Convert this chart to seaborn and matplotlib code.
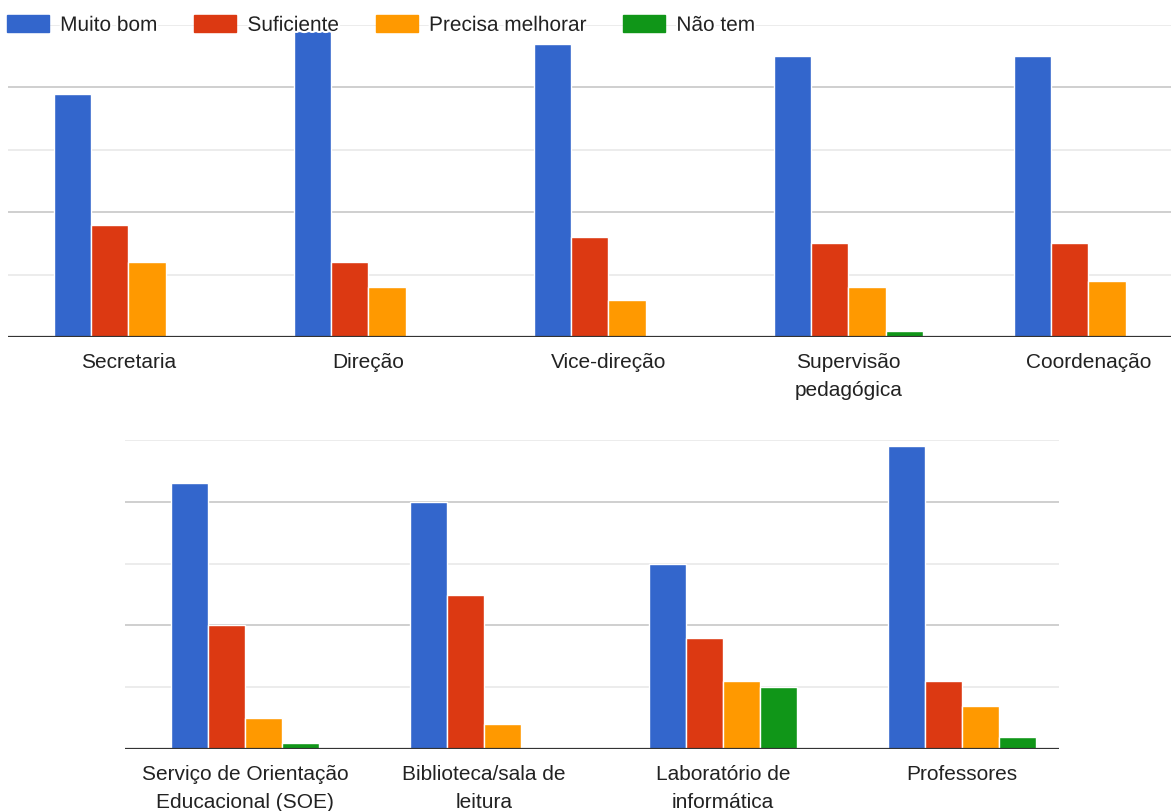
import matplotlib
matplotlib.use("Agg")
import matplotlib.pyplot as plt
import matplotlib.patheffects as pe
from matplotlib.patches import Patch
from matplotlib.ticker import MultipleLocator
import pandas as pd
import seaborn as sns

# Evaluation of school services (number of answers per rating)
series = ["Muito bom", "Suficiente", "Precisa melhorar", "Não tem"]
colors = ["#3366cc", "#dc3912", "#ff9900", "#109618"]

top_categories = ["Secretaria", "Direção", "Vice-direção",
                  "Supervisão\npedagógica", "Coordenação"]
top_muito_bom = [39, 49, 47, 45, 45]
top_suficiente = [18, 12, 16, 15, 15]
top_precisa = [12, 8, 6, 8, 9]
top_nao_tem = [0, 0, 0, 1, 0]

bottom_categories = ["Serviço de Orientação\nEducacional (SOE)",
                     "Biblioteca/sala de\nleitura",
                     "Laboratório de\ninformática", "Professores"]
bottom_muito_bom = [43, 40, 30, 49]
bottom_suficiente = [20, 25, 18, 11]
bottom_precisa = [5, 4, 11, 7]
bottom_nao_tem = [1, 0, 10, 2]


def long_table(categories, *values):
    rows = []
    for name, vals in zip(series, values):
        for cat, v in zip(categories, vals):
            rows.append({"categoria": cat, "avaliacao": name, "respostas": v})
    return pd.DataFrame(rows)


df_top = long_table(top_categories, top_muito_bom, top_suficiente,
                    top_precisa, top_nao_tem)
df_bottom = long_table(bottom_categories, bottom_muito_bom, bottom_suficiente,
                       bottom_precisa, bottom_nao_tem)

sns.set_theme(style="white")
plt.rcParams["font.family"] = ["Liberation Sans", "DejaVu Sans"]

W, H = 1171, 812
fig = plt.figure(figsize=(W / 100, H / 100), dpi=100)
fig.patch.set_facecolor("white")


def px_axes(left, right, top, bottom):
    return fig.add_axes([left / W, 1 - bottom / H, (right - left) / W,
                         (bottom - top) / H])


ax_top = px_axes(8, 1171, 26, 338)
ax_bot = px_axes(125, 1059, 441, 750)

palette = dict(zip(series, colors))
for ax, df, cats, xlim in [
    (ax_top, df_top, top_categories, (-0.502, 4.344)),
    (ax_bot, df_bottom, bottom_categories, (-0.502, 3.406)),
]:
    sns.barplot(data=df, x="categoria", y="respostas", hue="avaliacao",
                hue_order=series, order=cats, palette=palette, width=0.62,
                edgecolor="white", linewidth=1.0, saturation=1.0, ax=ax,
                legend=False, zorder=3)
    ax.set_xlim(*xlim)
    ax.set_ylim(0, 50)
    ax.yaxis.set_major_locator(MultipleLocator(20))
    ax.yaxis.set_minor_locator(MultipleLocator(10))
    ax.grid(which="major", axis="y", color="#cccccc", linewidth=1.3, zorder=0)
    ax.grid(which="minor", axis="y", color="#ebebeb", linewidth=1.3, zorder=0)
    ax.grid(False, axis="x")
    ax.set_axisbelow(True)
    ax.axhline(0, color="#333333", linewidth=1.6, zorder=4)
    for s in ax.spines.values():
        s.set_visible(False)
    ax.set_xlabel("")
    ax.set_ylabel("")
    ax.tick_params(axis="y", which="both", left=False, labelleft=False)
    ax.tick_params(axis="x", bottom=False, pad=5, labelsize=15,
                   labelcolor="#222222")
    for lab in ax.get_xticklabels():
        lab.set_linespacing(1.6)
    ax.set_facecolor("white")

handles = [Patch(facecolor=c, edgecolor=c) for c in colors]
leg = fig.legend(handles, series, loc="upper left",
                 bbox_to_anchor=(7 / W, 1 - 16 / H), ncol=4, frameon=False,
                 fontsize=15, handlelength=2.0, handleheight=0.9,
                 handletextpad=0.55, columnspacing=1.75, borderpad=0,
                 borderaxespad=0)
for t in leg.get_texts():
    t.set_color("#222222")
    t.set_path_effects([pe.withStroke(linewidth=3, foreground="white")])

fig.savefig("out.png", dpi=100, facecolor="white")
